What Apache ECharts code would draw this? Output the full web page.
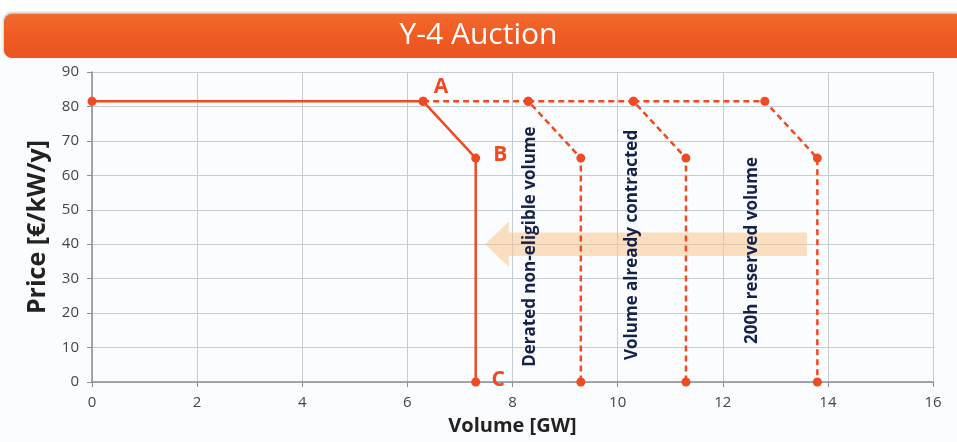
<!DOCTYPE html>
<html><head><meta charset="utf-8">
<script src="https://cdn.jsdelivr.net/npm/echarts@6/dist/echarts.min.js"></script>
<style>html,body{margin:0;padding:0;background:#fff}#c{width:957px;height:442px}</style>
</head><body><div id="c"></div>
<script>
// ---- data ----
var xTicks = [0, 2, 4, 6, 8, 10, 12, 14, 16];
var yTicks = [0, 10, 20, 30, 40, 50, 60, 70, 80, 90];
var supplyX = [0, 6.3, 7.3, 7.3];
var supplyY = [81.5, 81.5, 65, 0];
var derated1X = [6.3, 8.3, 9.3, 9.3];
var derated1Y = [81.5, 81.5, 65, 0];
var derated2X = [8.3, 10.3, 11.3, 11.3];
var derated2Y = [81.5, 81.5, 65, 0];
var derated3X = [10.3, 12.8, 13.8, 13.8];
var derated3Y = [81.5, 81.5, 65, 0];
var pointLabels = ['A', 'B', 'C'];
var pointLabelX = [6.64, 7.77, 7.73];
var pointLabelY = [85.6, 65.8, 0.6];
var noteTexts = ['Derated non-eligible volume', 'Volume already contracted', '200h reserved volume'];
var noteX = [8.33, 10.27, 12.56];
var noteY = [39.3, 39.8, 38.2];
// arrow: [tipX, tailX, centerY, shaftHalf, headHalf, headLen]
var arrowSpec = [7.48, 13.6, 40, 3.4, 6.6, 0.45];

function zip(xs, ys) { return xs.map(function (x, i) { return [x, ys[i]]; }); }

var orange = '#ef4a22';
var chart = echarts.init(document.getElementById('c'));
function lineSeries(xs, ys, dashed) {
  return {
    type: 'line', data: zip(xs, ys), symbol: 'circle', symbolSize: 9,
    itemStyle: { color: orange },
    lineStyle: { color: orange, width: 2.5, type: dashed ? [6, 4] : 'solid' },
    z: 5, animation: false
  };
}
var option = {
  backgroundColor: '#fbfcfe',
  animation: false,
  graphic: [
    { type: 'rect', left: 0, top: 0, shape: { width: 957, height: 12 }, style: { fill: '#ffffff' }, z: -1 },
    { type: 'rect', left: 4, top: 14, shape: { width: 960, height: 44, r: 8 },
      style: { fill: new echarts.graphic.LinearGradient(0, 0, 0, 1, [{ offset: 0, color: '#f26a2e' }, { offset: 0.5, color: '#f05a23' }, { offset: 1, color: '#ea5520' }]),
        shadowColor: 'rgba(0,0,0,0.35)', shadowBlur: 3, shadowOffsetY: -1 }, z: 10 },
    { type: 'text', left: 'center', top: 20, style: { text: 'Y-4 Auction', fill: '#ffffff', font: '30px "Open Sans", sans-serif' }, z: 11 }
  ],
  grid: { left: 92, right: 24, top: 72, bottom: 60 },
  xAxis: {
    type: 'value', min: 0, max: 16, interval: 2,
    name: 'Volume [GW]', nameLocation: 'middle', nameGap: 34,
    nameTextStyle: { fontSize: 20, fontWeight: 'bold', color: '#222', fontFamily: 'Open Sans' },
    axisLine: { show: true, lineStyle: { color: '#8a8f96', width: 1.5 } },
    axisTick: { show: true, length: 5, lineStyle: { color: '#8a8f96' } },
    axisLabel: { fontSize: 15, color: '#454545', margin: 13, fontFamily: 'Open Sans',
      formatter: function (v) { return xTicks.indexOf(v) >= 0 ? String(v) : ''; } },
    splitLine: { show: true, lineStyle: { color: '#c6ccd4', width: 1 } }
  },
  yAxis: {
    type: 'value', min: 0, max: 90, interval: 10,
    name: 'Price [€/kW/y]', nameLocation: 'middle', nameGap: 42,
    nameTextStyle: { fontSize: 25, fontWeight: 'bold', color: '#222', fontFamily: 'Open Sans' },
    axisLine: { show: true, lineStyle: { color: '#8a8f96', width: 1.5 } },
    axisTick: { show: true, length: 5, lineStyle: { color: '#8a8f96' } },
    axisLabel: { fontSize: 15, color: '#454545', margin: 13, fontFamily: 'Open Sans',
      formatter: function (v) { return yTicks.indexOf(v) >= 0 ? String(v) : ''; } },
    splitLine: { show: true, lineStyle: { color: '#c6ccd4', width: 1 } }
  },
  series: [
    {
      type: 'custom', data: [arrowSpec], z: 1,
      renderItem: function (params, api) {
        var tip = api.value(0), tail = api.value(1), cy = api.value(2), sh = api.value(3), hh = api.value(4), hl = api.value(5);
        var p = [
          [tip, cy], [tip + hl, cy + hh], [tip + hl, cy + sh], [tail, cy + sh],
          [tail, cy - sh], [tip + hl, cy - sh], [tip + hl, cy - hh]
        ].map(function (d) { return api.coord(d); });
        return { type: 'polygon', shape: { points: p }, style: { fill: 'rgba(248,196,140,0.55)' } };
      }
    },
    lineSeries(supplyX, supplyY, false),
    lineSeries(derated1X, derated1Y, true),
    lineSeries(derated2X, derated2Y, true),
    lineSeries(derated3X, derated3Y, true),
    {
      type: 'scatter', symbolSize: 1, z: 6, itemStyle: { opacity: 1, color: 'rgba(0,0,0,0)' },
      data: pointLabels.map(function (t, i) { return { value: [pointLabelX[i], pointLabelY[i]], name: t }; }),
      label: { show: true, position: 'inside', formatter: '{b}', fontSize: 21, fontWeight: 'bold', color: orange, opacity: 1, fontFamily: 'Open Sans' }
    },
    {
      type: 'scatter', symbolSize: 1, z: 6, itemStyle: { opacity: 1, color: 'rgba(0,0,0,0)' },
      data: noteTexts.map(function (t, i) { return { value: [noteX[i], noteY[i]], name: t }; }),
      label: { show: true, position: 'inside', rotate: 90, formatter: '{b}', fontSize: 17, fontWeight: 'bold', color: '#14224a', opacity: 1, fontFamily: '"Open Sans", sans-serif' }
    }
  ]
};
chart.setOption(option);
</script></body></html>
